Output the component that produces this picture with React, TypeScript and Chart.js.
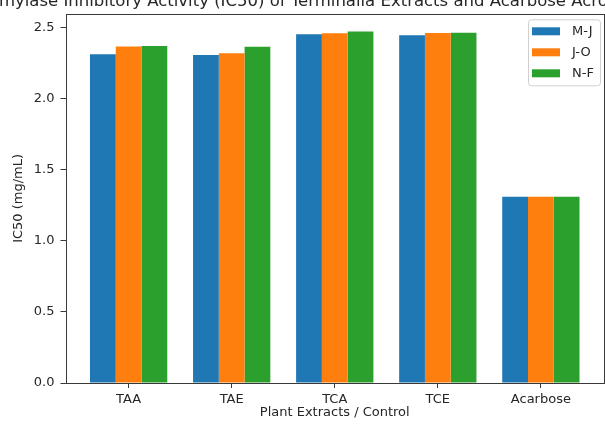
import { useEffect, useRef } from 'react';
import { Chart, registerables } from 'chart.js';

Chart.register(...registerables);

// Extract categories and seasonal IC50 values (mg/mL)
const categories = ['TAA', 'TAE', 'TCA', 'TCE', 'Acarbose'];
const seriesLabels = ['M-J', 'J-O', 'N-F'];
const mjValues = [2.313, 2.307, 2.453, 2.446, 1.31];
const joValues = [2.367, 2.32, 2.46, 2.462, 1.31];
const nfValues = [2.372, 2.365, 2.474, 2.465, 1.31];
const seriesColors = ['#1f77b4', '#ff7f0e', '#2ca02c'];
const yTickValues = [0, 0.5, 1.0, 1.5, 2.0, 2.5];

const titleText =
  'α-Amylase Inhibitory Activity (IC50) of Terminalia Extracts and Acarbose Across Seasons';
const xTitle = 'Plant Extracts / Control';
const yTitle = 'IC50 (mg/mL)';

const FONT = '"DejaVu Sans", sans-serif';
const TEXT_COLOR = '#262626';
const AXIS_COLOR = '#3a3a3a';

const allValues = [...mjValues, ...joValues, ...nfValues];
const yMax = Math.max(...allValues) * 1.05;
// bars occupy [-0.375, n-1+0.375]; add 5% side margins like a matplotlib axes
const span = categories.length - 1 + 0.75;
const xMin = -0.375 - span * 0.05;
const xMax = categories.length - 1 + 0.375 + span * 0.05;

const decorations = {
  id: 'decorations',
  afterDraw(chart: any) {
    const { ctx, chartArea } = chart;
    const { left, right, top, bottom } = chartArea;
    ctx.save();

    // axes frame
    ctx.strokeStyle = AXIS_COLOR;
    ctx.lineWidth = 1;
    ctx.strokeRect(Math.round(left) + 0.5, Math.round(top) + 0.5, Math.round(right - left) - 1, Math.round(bottom - top));

    // title (wider than the canvas, so it is clipped on both sides)
    ctx.fillStyle = TEXT_COLOR;
    ctx.font = `16.5px ${FONT}`;
    ctx.textAlign = 'center';
    ctx.textBaseline = 'alphabetic';
    ctx.fillText(titleText, (left + right) / 2, 6);

    // axis titles
    ctx.font = `13px ${FONT}`;
    ctx.textBaseline = 'middle';
    ctx.fillText(xTitle, (left + right) / 2, 413);
    ctx.save();
    ctx.translate(19, (top + bottom) / 2);
    ctx.rotate(-Math.PI / 2);
    ctx.fillText(yTitle, 0, 0);
    ctx.restore();

    // legend box in the upper right corner
    const boxW = 72;
    const boxH = 66;
    const bx = right - 4 - boxW;
    const by = top + 5.5;
    ctx.beginPath();
    ctx.roundRect(bx + 0.5, by + 0.5, boxW, boxH, 3);
    ctx.fillStyle = 'rgba(255,255,255,0.8)';
    ctx.fill();
    ctx.strokeStyle = '#d0d0d0';
    ctx.stroke();

    ctx.font = `13px ${FONT}`;
    ctx.textAlign = 'left';
    ctx.textBaseline = 'middle';
    chart.data.datasets.forEach((ds: any, i: number) => {
      const cy = by + 12 + i * 21;
      ctx.fillStyle = ds.backgroundColor;
      ctx.fillRect(bx + 4, cy - 4, 28, 8);
      ctx.fillStyle = TEXT_COLOR;
      ctx.fillText(ds.label, bx + 44, cy);
    });

    ctx.restore();
  },
};

export default function App() {
  const canvasRef = useRef<HTMLCanvasElement | null>(null);

  useEffect(() => {
    document.body.style.margin = '0';
    const canvas = canvasRef.current;
    if (!canvas) return;

    const seriesValues = [mjValues, joValues, nfValues];
    const chart = new Chart(canvas, {
      type: 'bar',
      data: {
        datasets: seriesLabels.map((label, s) => ({
          label,
          data: seriesValues[s].map((y, i) => ({ x: i, y })),
          backgroundColor: seriesColors[s],
          borderWidth: 0,
          categoryPercentage: 0.75,
          barPercentage: 1.0,
        })),
      },
      options: {
        responsive: false,
        animation: false,
        devicePixelRatio: 1,
        layout: { padding: { top: 11.5, right: 1, left: 0, bottom: 0 } },
        plugins: {
          legend: { display: false },
          title: { display: false },
          tooltip: { enabled: false },
        },
        scales: {
          x: {
            type: 'linear',
            min: xMin,
            max: xMax,
            offset: false,
            afterBuildTicks: (scale: any) => {
              scale.ticks = categories.map((_, i) => ({ value: i }));
            },
            afterFit: (scale: any) => {
              scale.height = 42;
            },
            ticks: {
              autoSkip: false,
              maxRotation: 0,
              padding: 4,
              color: TEXT_COLOR,
              font: { family: FONT, size: 13 },
              callback: (v: any) => categories[Math.round(Number(v))] ?? '',
            },
            grid: {
              display: true,
              offset: false,
              drawOnChartArea: false,
              drawTicks: true,
              tickLength: 5,
              tickColor: AXIS_COLOR,
            },
            border: { display: false },
          },
          y: {
            min: 0,
            max: yMax,
            afterBuildTicks: (scale: any) => {
              scale.ticks = yTickValues.map((v) => ({ value: v }));
            },
            afterFit: (scale: any) => {
              scale.width = 65.5;
            },
            ticks: {
              padding: 6,
              color: TEXT_COLOR,
              font: { family: FONT, size: 13 },
              callback: (v: any) => Number(v).toFixed(1),
            },
            grid: {
              display: true,
              drawOnChartArea: false,
              drawTicks: true,
              tickLength: 5,
              tickColor: AXIS_COLOR,
            },
            border: { display: false },
          },
        },
      },
      plugins: [decorations],
    } as any);

    return () => chart.destroy();
  }, []);

  return (
    <div style={{ width: 605, height: 425, background: '#fff' }}>
      <canvas ref={canvasRef} width={605} height={425} style={{ display: 'block' }} />
    </div>
  );
}
